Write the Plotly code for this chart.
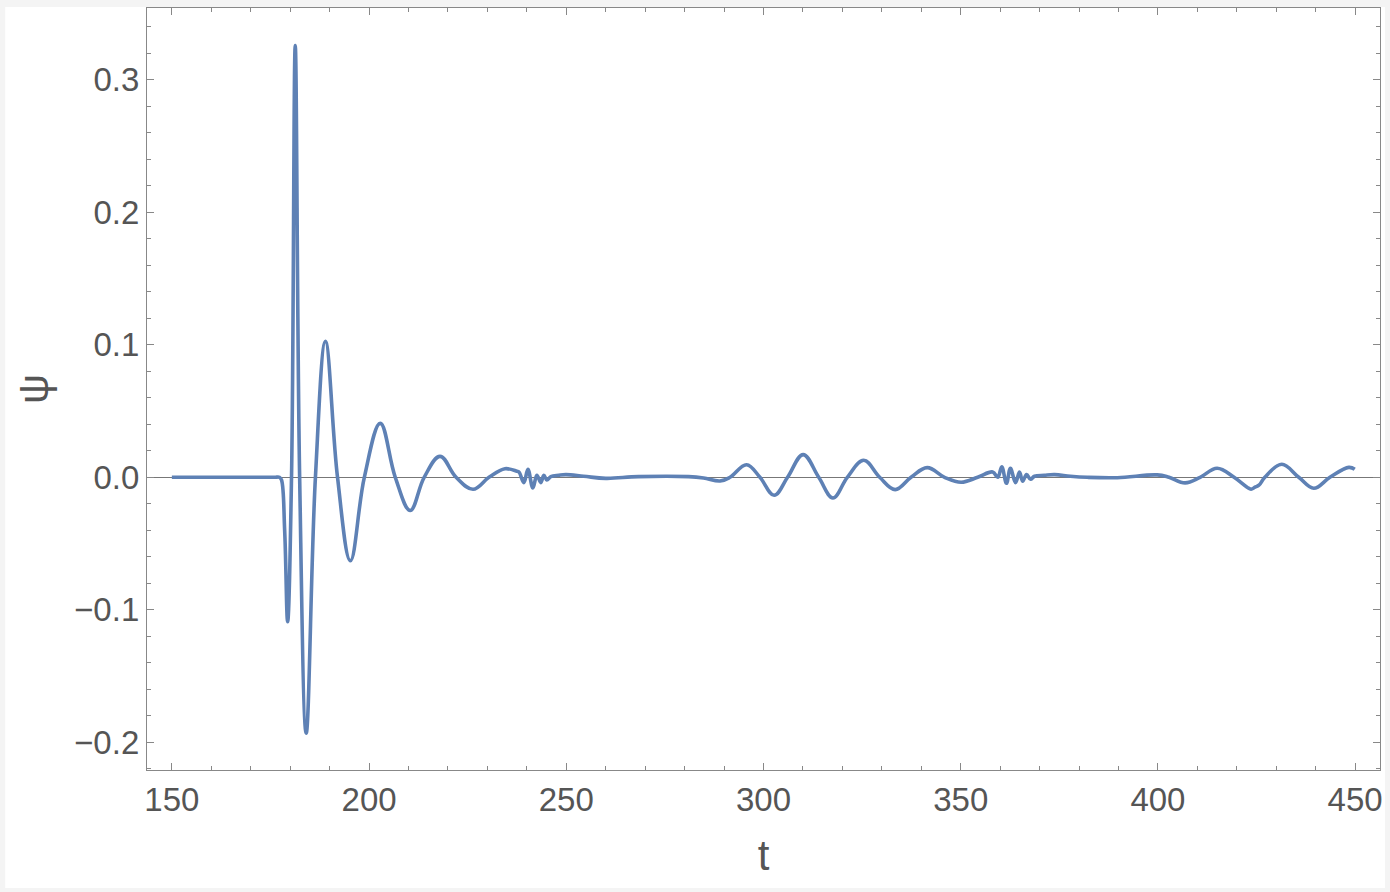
import plotly.graph_objects as go

# values (t, psi)
t = [150, 160, 170, 176, 177.3, 177.8, 178.6, 179.35, 180.34, 181.28,
     182.4, 184.06, 186.4, 188.94, 192.0, 195.26, 198.8, 202.84, 206.64, 210.43,
     213.97, 218.0, 222.06, 226.36, 230.4, 234.45, 237.5, 238.0, 239.25, 240.27,
     241.53, 242.54, 243.55, 244.31, 245.07, 246.08, 248.1, 249.9, 254.4, 260.0,
     268.3, 281.0, 284.8, 289.0, 291.5, 295.7, 299.1, 302.7, 306.1, 310.05,
     314.0, 317.6, 321.25, 325.4, 329.45, 333.4, 337.4, 341.5, 345.9, 350.1,
     354.3, 358.1, 359.4, 360.4, 361.6, 362.6, 363.9, 364.9, 365.7, 366.7,
     367.7, 368.7, 371.2, 373.8, 377.8, 382.1, 389.7, 399.8, 402.8, 406.9,
     410.7, 415.0, 419.3, 422.6, 423.6, 424.6, 425.6, 427.1, 431.4, 435.7,
     439.5, 443.6, 448.4, 449.9]
psi = [0, 0, 0, 0, 0, -0.002, -0.04, -0.109, 0, 0.3256,
       0, -0.193, 0, 0.1025, 0, -0.063, 0, 0.0407, 0, -0.025,
       0, 0.0158, 0, -0.009, 0, 0.0065, 0.0045, 0.004, -0.004, 0.006,
       -0.008, 0.0015, -0.004, 0.0015, -0.002, 0.0005, 0.0015, 0.002, 0.0008, -0.0008,
       0.0005, 0.0005, -0.0005, -0.0028, 0, 0.0095, 0, -0.0136, 0, 0.0171,
       0, -0.0156, 0, 0.0128, 0, -0.0093, 0, 0.0073, 0, -0.0037,
       0, 0.004, 0.0, 0.008, -0.0045, 0.0068, -0.004, 0.004, -0.003, 0.002,
       -0.0015, 0.0008, 0.0015, 0.002, 0.0008, 0, -0.0003, 0.0018, 0, -0.0042,
       0, 0.0068, 0, -0.0075, -0.009, -0.0075, -0.006, 0, 0.0098, 0,
       -0.0083, 0, 0.0075, 0.006]

x_ticks = [150, 200, 250, 300, 350, 400, 450]
y_ticks = [-0.2, -0.1, 0.0, 0.1, 0.2, 0.3]

fig = go.Figure()
fig.add_trace(go.Scatter(x=t, y=psi, mode='lines',
                         line=dict(color='#5E81B5', width=3.6, shape='spline', smoothing=1.1),
                         showlegend=False))

tick_font = dict(family='Liberation Sans, Arial, sans-serif', size=33, color='#555555')
title_font = dict(family='Liberation Sans, Arial, sans-serif', size=42, color='#555555')

fig.update_xaxes(range=[143.7, 456.3], tickvals=x_ticks, ticks='inside', ticklen=7,
                 tickcolor='#888888', showline=True, linecolor='#888888', linewidth=1.3,
                 mirror='ticks', showgrid=False, zeroline=False, tickfont=tick_font,
                 minor=dict(dtick=10, ticks='inside', ticklen=4, tickcolor='#888888'),
                 title=dict(text='t', font=title_font, standoff=23))
fig.update_yaxes(range=[-0.2208, 0.354], tickvals=y_ticks, tickformat='.1f', ticks='inside',
                 ticklen=7, tickcolor='#888888', showline=True, linecolor='#888888',
                 linewidth=1.3, mirror='ticks', showgrid=False, zeroline=True,
                 zerolinecolor='#777777', zerolinewidth=1, tickfont=tick_font,
                 minor=dict(dtick=0.02, ticks='inside', ticklen=4, tickcolor='#888888'),
                 title=dict(text='ψ', font=title_font, standoff=12))

fig.add_shape(type='rect', xref='paper', yref='paper', x0=-0.115, x1=1.004,
              y0=-0.1547, y1=1.0013, fillcolor='white', line=dict(width=0), layer='below')

fig.update_layout(width=1390, height=892, margin=dict(l=147, r=8, t=7, b=122),
                  paper_bgcolor='#f4f4f4', plot_bgcolor='white')

fig.write_html("out.html", config={'displayModeBar': False},
               post_script="document.body.style.margin='0';")
